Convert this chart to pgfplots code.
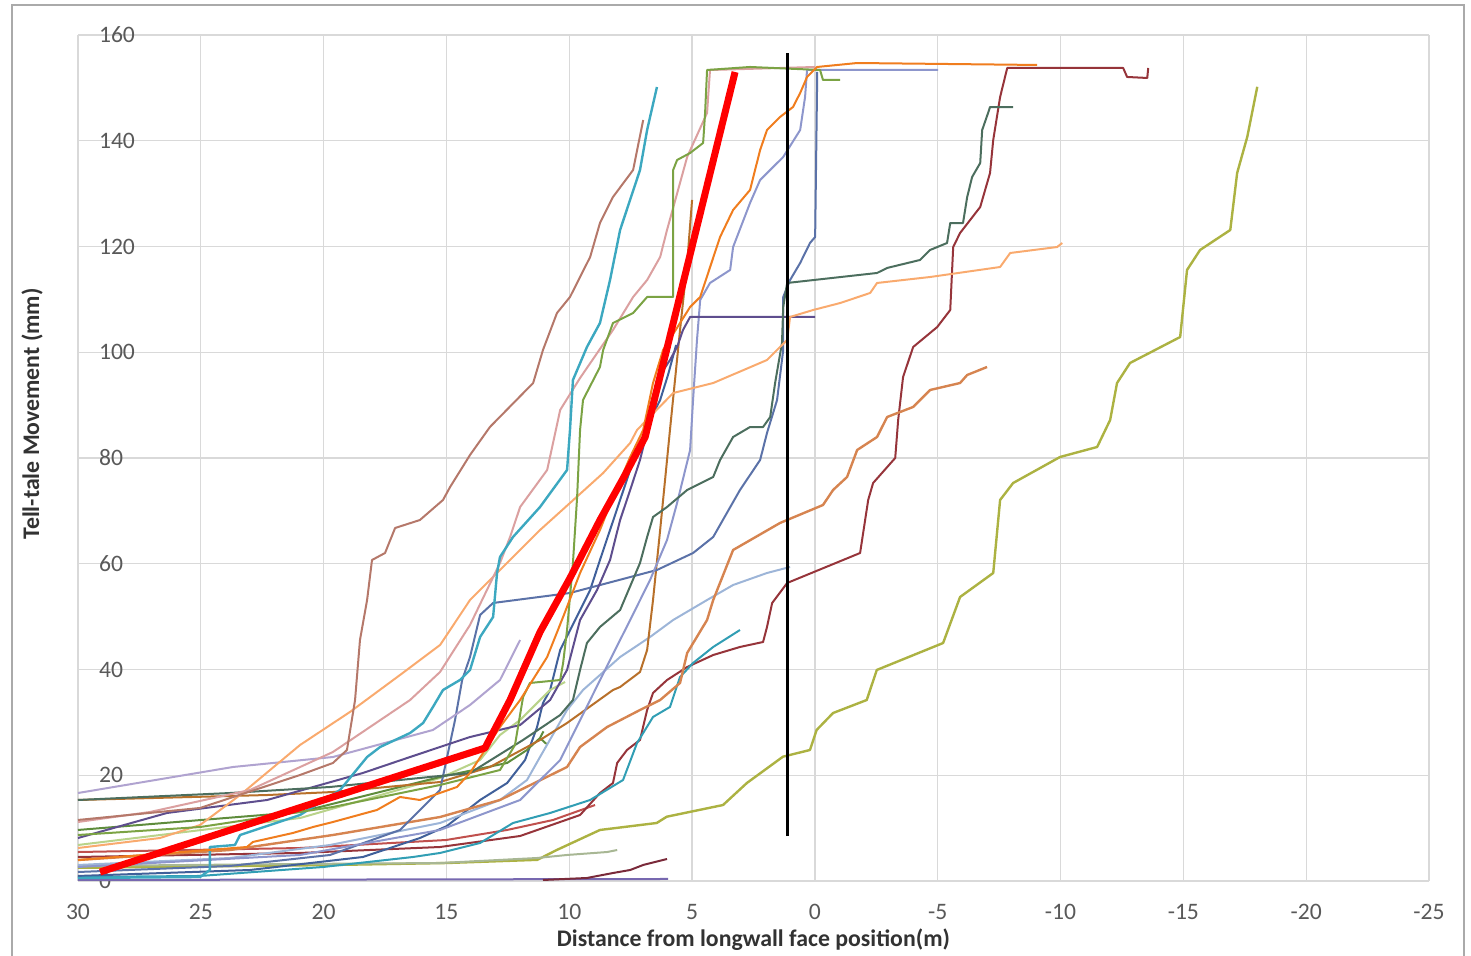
\documentclass[border=0pt]{standalone}
\usepackage{fontspec}
\setmainfont{Carlito}
\usepackage{pgfplots}
\pgfplotsset{compat=1.18}
\definecolor{cOlive}{RGB}{172,178,66}
\definecolor{cMaroon}{RGB}{150,52,58}
\definecolor{cRed}{RGB}{192,80,77}
\definecolor{cTealLo}{RGB}{49,158,180}
\definecolor{cSienna}{RGB}{214,132,80}
\definecolor{cBrown}{RGB}{184,112,42}
\definecolor{cOrange}{RGB}{240,125,30}
\definecolor{cPeach}{RGB}{249,170,110}
\definecolor{cGreen}{RGB}{123,163,68}
\definecolor{cRose}{RGB}{219,160,160}
\definecolor{cBrownPink}{RGB}{181,120,106}
\definecolor{cTealHi}{RGB}{60,168,192}
\definecolor{cLav}{RGB}{176,163,208}
\definecolor{cDkGreen}{RGB}{76,110,94}
\definecolor{cIndigo}{RGB}{94,78,142}
\definecolor{cSlate}{RGB}{91,114,168}
\definecolor{cLavBlue}{RGB}{141,150,204}
\definecolor{cSteel}{RGB}{157,181,216}
\definecolor{cDkBlue}{RGB}{64,96,154}
\definecolor{cPurpBot}{RGB}{119,104,176}
\definecolor{cDkMaroon}{RGB}{122,42,58}
\definecolor{cPaleGreen}{RGB}{168,183,148}
\definecolor{cLtGreen}{RGB}{185,211,138}
\definecolor{cGreen2}{RGB}{94,140,60}
\definecolor{tickgray}{RGB}{89,89,89}
\definecolor{labgray}{RGB}{50,50,50}
\definecolor{gridgray}{RGB}{217,217,217}
\definecolor{framegray}{RGB}{170,170,170}
\begin{document}
\begin{tikzpicture}[x=1pt,y=1pt]
\path[use as bounding box] (-39,-37.5) rectangle (696.5,440.5);
\draw[framegray, line width=1pt] (-33,-60) -- (-33,438) -- (693,438) -- (693,-60);
\begin{axis}[
  at={(0,0)}, anchor=south west,
  scale only axis, width=675.5pt, height=423pt,
  x dir=reverse, xmin=-25, xmax=30, ymin=0, ymax=160,
  xtick={-25,-20,-15,-10,-5,0,5,10,15,20,25,30},
  xticklabels={-25,-20,-15,-10,-5,0,5,10,15,20,25,30},
  ytick={0,20,40,60,80,100,120,140,160},
  yticklabels={0,20,40,60,80,100,120,140,160},
  grid=major, grid style={gridgray, line width=0.6pt},
  axis line style={draw=none}, major tick length=0pt,
  ticklabel style={font=\fontsize{11.8}{14}\selectfont, text=tickgray},
  xticklabel style={yshift=-8pt},
  yticklabel style={anchor=west, xshift=7pt},
  xlabel={Distance from longwall face position(m)},
  ylabel={Tell-tale Movement (mm)},
  label style={font=\fontsize{11.9}{14}\bfseries\selectfont, text=labgray},
  xlabel style={at={(axis description cs:0.5,-0.0697)}, anchor=center},
  ylabel style={at={(axis description cs:-0.034,0.552)}, anchor=center, rotate=0},
  every axis plot/.append style={line width=1pt, line join=round, no markers},
  clip=true,
]
% olive
\addplot[cOlive, line width=1.2pt] coordinates {(30,2.5)(20,3.0)(15,3.4)(11.3,4.0)(10.51,5.86)(8.75,9.65)(6.44,10.97)(6.03,12.16)(3.74,14.37)(2.77,18.53)(1.30,23.51)(0.20,24.78)(-0.07,28.56)(-0.74,31.77)(-2.11,34.23)(-2.52,39.91)(-5.22,45.01)(-5.91,53.71)(-7.26,58.25)(-7.54,72.06)(-8.07,75.27)(-9.98,80.19)(-11.49,82.08)(-12.02,87.19)(-12.30,94.18)(-12.83,97.97)(-14.87,102.88)(-15.15,115.56)(-15.68,119.34)(-16.91,123.12)(-17.19,133.9)(-17.60,140.7)(-18.01,150.2)};
% pale green short
\addplot[cPaleGreen] coordinates {(30,2.84)(20.96,3.22)(15.26,3.40)(11.31,4.35)(10.09,4.92)(8.46,5.48)(8.05,5.86)};
% bottom purple
\addplot[cPurpBot] coordinates {(30,0.19)(5.98,0.38)};
% dark maroon short
\addplot[cDkMaroon] coordinates {(11.07,0.19)(9.28,0.57)(8.22,1.51)(7.52,2.08)(6.99,3.03)(6.02,4.16)};
% red short
\addplot[cRed] coordinates {(30,5.48)(20.96,6.24)(15.02,7.75)(12.53,9.65)(10.66,11.54)(8.95,14.37)};
% maroon long
\addplot[cMaroon] coordinates {(30,4.54)(20.96,5.30)(15.26,6.43)(12.00,8.51)(9.56,12.48)(8.75,16.64)(8.22,18.53)(8.05,22.32)(7.65,24.78)(7.12,26.67)(6.83,32.34)(6.59,35.56)(6.02,38.01)(5.20,40.47)(4.14,42.74)(3.05,44.26)(2.11,45.20)(1.95,48.04)(1.74,52.58)(1.13,56.36)(-1.84,62.03)(-2.17,72.06)(-2.37,75.27)(-3.27,80.00)(-3.39,87.19)(-3.59,95.32)(-4.00,100.99)(-4.98,104.77)(-5.51,107.99)(-5.63,119.90)(-5.91,122.55)(-6.73,127.47)(-7.13,133.90)(-7.26,140.14)(-7.54,148.27)(-7.83,153.76)(-12.55,153.76)(-12.71,152.06)(-13.53,151.87)(-13.57,153.76)};
% teal low
\addplot[cTealLo] coordinates {(30,0.76)(25.03,0.95)(20.02,2.65)(16.36,4.54)(15.26,5.30)(13.63,7.19)(12.29,10.97)(10.78,12.86)(9.15,15.32)(7.81,19.10)(7.24,26.10)(6.59,31.02)(5.90,32.91)(5.49,38.58)(4.96,41.23)(4.14,44.26)(3.05,47.47)};
% dark blue
\addplot[cDkBlue] coordinates {(30,0.95)(23.00,2.08)(18.40,4.54)(16.08,8.13)(14.98,10.40)(13.63,15.32)(12.53,18.53)(11.80,22.88)(11.31,29.12)(11.07,33.66)(10.78,36.12)(10.37,43.69)(9.76,49.36)(9.15,55.03)(8.75,60.71)(8.34,66.38)(7.93,72.06)(7.52,77.73)(7.12,82.46)(6.71,87.19)(6.30,90.97)(5.98,95.70)(5.65,101.37)};
% steel light blue
\addplot[cSteel] coordinates {(30,3.03)(23.81,4.35)(19.74,6.81)(15.26,10.97)(12.82,15.32)(11.72,19.10)(11.19,23.45)(10.09,32.34)(9.44,36.12)(8.75,38.96)(7.93,42.36)(6.71,46.15)(5.77,49.36)(4.39,53.14)(3.33,55.98)(1.95,58.25)(1.01,59.39)};
% light green
\addplot[cLtGreen] coordinates {(30,6.81)(20.96,11.91)(15.26,19.48)(13.63,22.88)(12.82,27.61)(12.00,30.45)(10.78,36.12)(10.17,37.64)};
% green 2
\addplot[cGreen2] coordinates {(30,9.65)(20.96,13.05)(15.26,19.67)(12.53,22.32)(11.72,24.78)(11.19,27.04)(10.95,26.0)(11.19,27.04)(11.05,28.3)};
% sienna
\addplot[cSienna, line width=1.2pt] coordinates {(30,3.97)(23.81,5.86)(19.62,8.70)(15.26,12.10)(12.82,15.32)(10.09,21.56)(9.56,25.34)(8.46,29.12)(7.12,32.34)(6.30,34.23)(5.49,37.45)(5.20,43.12)(4.39,49.36)(4.14,53.14)(3.33,62.60)(1.42,67.71)(-0.33,71.11)(-0.74,73.95)(-1.31,76.41)(-1.72,81.51)(-2.53,83.97)(-2.94,87.75)(-4.00,89.65)(-4.69,92.86)(-5.91,94.18)(-6.20,95.70)(-7.01,97.21)};
% steep brown
\addplot[cBrown] coordinates {(30,15.32)(22.30,16.26)(19.62,16.83)(15.26,18.72)(13.23,21.56)(11.19,26.67)(10.09,29.88)(8.22,36.12)(7.93,36.69)(7.12,39.53)(6.83,43.69)(6.59,53.14)(6.30,66.38)(5.90,85.30)(5.49,104.21)(5.20,116.88)(5.00,128.80)};
% slate blue
\addplot[cSlate] coordinates {(30,1.70)(23.81,2.84)(19.74,4.92)(16.89,9.65)(15.26,17.21)(14.65,30.45)(14.36,38.01)(14.04,42.36)(13.63,50.31)(13.10,52.58)(9.97,54.47)(6.43,58.82)(4.96,62.03)(4.14,65.06)(3.05,73.95)(2.23,79.62)(1.95,84.73)(1.54,90.97)(1.29,100.43)(1.29,110.45)(1.01,113.66)(0.60,116.88)(0.20,120.66)(-0.01,121.80)(-0.09,150.92)(-0.09,153.00)};
% lavender blue
\addplot[cLavBlue] coordinates {(30,2.65)(20.96,4.92)(15.26,9.65)(12.00,15.32)(10.37,22.88)(9.15,34.23)(8.34,41.80)(7.52,49.36)(6.71,56.93)(6.02,64.49)(5.61,71.49)(5.08,81.51)(4.96,90.97)(4.80,102.32)(4.67,109.88)(4.27,113.10)(3.45,115.56)(3.33,119.90)(2.64,128.23)(2.23,132.58)(1.29,136.93)(0.60,142.03)(0.40,148.27)(0.32,153.38)(-5.02,153.38)};
% indigo
\addplot[cIndigo] coordinates {(30,8.13)(26.38,12.86)(22.30,15.32)(18.40,20.43)(16.48,23.45)(14.04,27.23)(12.00,29.50)(10.78,34.23)(10.09,39.91)(9.56,49.36)(8.87,55.03)(8.34,60.71)(7.93,68.27)(7.52,73.95)(7.12,79.62)(6.71,87.19)(6.43,94.75)(5.90,98.53)(5.61,100.99)(5.37,104.21)(5.08,106.67)(-0.01,106.67)};
% dark slate green
\addplot[cDkGreen] coordinates {(30,15.32)(23.81,16.64)(19.74,17.78)(14.04,20.43)(11.88,26.67)(10.37,31.39)(9.85,34.23)(9.56,39.91)(9.28,45.01)(8.75,48.04)(7.93,51.25)(7.12,60.14)(6.83,65.06)(6.59,68.84)(6.02,70.73)(5.20,73.95)(4.14,76.41)(3.86,79.62)(3.33,83.97)(2.64,85.86)(2.11,85.86)(1.82,87.75)(1.62,94.18)(1.34,101.75)(1.29,108.56)(1.13,113.10)(-2.53,114.99)(-2.94,115.94)(-4.28,117.45)(-4.69,119.34)(-5.38,120.66)(-5.51,124.44)(-6.03,124.44)(-6.20,129.36)(-6.40,133.14)(-6.73,135.79)(-6.81,142.03)(-7.05,145.25)(-7.13,146.38)(-8.07,146.38)};
% lavender short
\addplot[cLav] coordinates {(30,16.64)(23.69,21.56)(19.62,23.45)(15.55,28.56)(14.04,33.29)(12.82,38.01)(12.00,45.58)};
% peach
\addplot[cPeach] coordinates {(30,6.24)(26.66,8.13)(25.03,10.59)(23.40,16.26)(20.96,25.72)(18.93,31.96)(16.89,38.96)(15.26,44.63)(14.04,53.14)(12.82,58.82)(11.19,66.38)(9.97,71.49)(8.62,77.16)(7.52,82.84)(7.24,85.30)(5.77,92.29)(4.14,94.18)(1.95,98.53)(1.13,102.32)(1.01,106.67)(0.07,107.99)(-1.03,109.31)(-2.25,111.21)(-2.53,113.10)(-4.69,114.23)(-7.54,116.12)(-7.95,118.77)(-9.86,119.90)(-10.07,120.66)};
% rose
\addplot[cRose] coordinates {(30,11.16)(27.07,13.05)(23.00,17.21)(19.62,24.40)(16.48,34.23)(15.26,39.53)(14.04,48.42)(12.82,60.14)(12.41,65.06)(12.00,70.73)(10.90,77.73)(10.66,82.84)(10.37,89.08)(9.56,95.13)(8.22,104.21)(7.40,110.45)(6.83,113.66)(6.30,118.01)(6.02,123.12)(5.20,136.93)(4.39,145.25)(4.27,153.38)(-0.01,153.95)};
% brown-pink
\addplot[cBrownPink] coordinates {(30,11.54)(25.03,13.81)(20.96,20.05)(19.62,22.32)(19.05,24.78)(18.72,34.23)(18.52,45.58)(18.23,53.14)(18.03,60.71)(17.50,62.03)(17.09,66.76)(16.08,68.27)(15.14,72.06)(14.85,74.52)(14.04,80.57)(13.23,85.86)(11.47,94.18)(11.07,100.43)(10.50,107.42)(9.97,110.45)(9.15,118.01)(8.75,124.44)(8.22,129.36)(7.40,134.47)(6.99,143.92)};
% teal high
\addplot[cTealHi, line width=1.2pt] coordinates {(30,0.57)(25.03,0.76)(24.63,2.08)(24.63,6.43)(23.61,6.81)(23.40,8.70)(20.96,12.48)(19.33,17.21)(18.23,23.45)(17.70,25.34)(16.48,27.99)(15.95,29.88)(15.55,32.91)(15.14,36.12)(14.45,38.01)(14.04,39.91)(13.63,46.15)(13.10,49.93)(12.94,58.25)(12.82,61.28)(12.29,65.06)(11.19,70.73)(10.09,77.73)(9.97,85.30)(9.85,94.75)(9.28,100.99)(8.75,105.53)(8.34,113.66)(7.93,123.12)(7.12,134.47)(6.83,142.03)(6.71,144.49)(6.43,150.16)};
% green
\addplot[cGreen] coordinates {(30,8.70)(25.03,10.21)(19.62,14.00)(15.26,18.16)(12.82,20.99)(12.21,25.72)(11.88,34.80)(11.60,37.45)(10.37,38.01)(10.25,41.23)(10.09,47.47)(9.85,60.14)(9.68,72.62)(9.56,85.30)(9.44,90.97)(8.75,97.21)(8.62,100.43)(8.22,105.53)(7.40,107.42)(6.83,110.45)(5.77,110.45)(5.77,134.47)(5.61,136.36)(5.08,137.68)(4.55,139.58)(4.47,145.25)(4.39,153.38)(2.64,153.95)(-0.21,153.38)(-0.33,151.49)(-1.03,151.49)};
% bright orange
\addplot[cOrange] coordinates {(30,3.97)(23.12,6.43)(22.88,7.38)(21.25,9.08)(20.43,10.21)(19.62,11.16)(17.83,13.43)(16.89,15.89)(16.08,15.32)(14.57,17.78)(14.04,20.43)(13.51,24.21)(12.82,29.12)(12.00,34.23)(10.90,42.36)(10.25,49.93)(9.56,58.25)(8.75,66.38)(8.22,72.62)(7.52,80.19)(6.99,85.30)(6.59,94.18)(6.18,100.43)(5.08,108.56)(4.67,110.45)(3.86,121.80)(3.33,126.90)(2.64,130.69)(2.23,138.25)(1.95,142.03)(1.42,144.49)(0.89,146.38)(0.60,149.03)(0.32,152.06)(-0.09,153.95)(-1.72,154.70)(-9.05,154.33)};
% fitted red line
\addplot[red, line width=3.5pt] coordinates {(29.10,1.70)(13.43,25.15)(12.41,34.23)(11.19,47.09)(9.97,57.30)(8.75,68.27)(7.73,76.78)(6.91,83.97)(3.25,153.0)};
% black vertical line
\addplot[black, line width=1.5pt] coordinates {(1.13,8.5)(1.13,156.6)};
\end{axis}
\end{tikzpicture}
\end{document}
